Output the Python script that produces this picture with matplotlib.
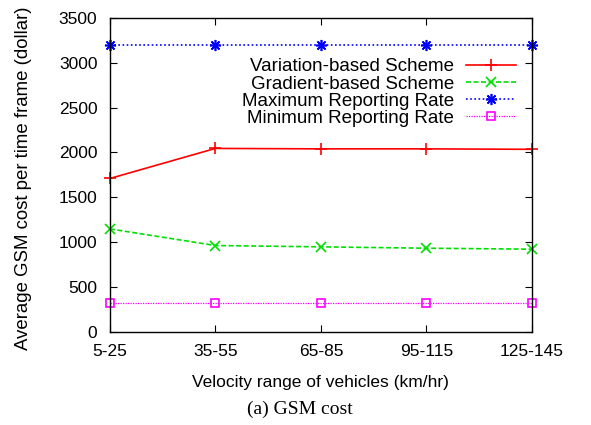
import numpy as np
import matplotlib
matplotlib.use('Agg')
import matplotlib.pyplot as plt

plt.rcParams['font.family'] = ['Liberation Sans', 'DejaVu Sans']

speed_ranges = ['5-25', '35-55', '65-85', '95-115', '125-145']
variation = [1710, 2045, 2040, 2040, 2035]
gradient = [1148, 963, 948, 933, 922]
max_rate = [3200, 3200, 3200, 3200, 3200]
min_rate = [320, 320, 320, 320, 320]

fig = plt.figure(figsize=(5.91, 4.25), dpi=100)
ax = fig.add_axes([0.186, 0.219, 0.714, 0.739])
x = np.arange(len(speed_ranges))

ax.plot(x, variation, color='#ff0000', ls='-', lw=1.2, marker='+', ms=8, mew=1.2,
        label='Variation-based Scheme', clip_on=False)
ax.plot(x, gradient, color='#00e000', ls=(0, (3, 1.5)), lw=1.2, marker='x', ms=7, mew=1.2,
        label='Gradient-based Scheme', clip_on=False)
ax.plot(x, max_rate, color='#0000ff', ls=(0, (1, 1.5)), lw=1.2, marker=(8, 2, 0), ms=8, mew=1.2,
        label='Maximum Reporting Rate', clip_on=False)
ax.plot(x, min_rate, color='#ff00ff', ls=(0, (1, 1)), lw=0.9, marker='s', ms=6, mew=1.2,
        mfc='none', label='Minimum Reporting Rate', clip_on=False)

ax.set_xlim(0, len(speed_ranges) - 1)
ax.set_ylim(0, 3500)
ax.set_xticks(x)
ax.set_xticklabels(speed_ranges)
ax.set_yticks(np.arange(0, 3501, 500))
ax.tick_params(direction='in', top=True, right=True, labelsize=12.5, length=5)
ax.tick_params(axis='x', pad=9)
ax.tick_params(axis='y', pad=9)
for s in ax.spines.values():
    s.set_linewidth(1.0)

ax.set_xlabel('Velocity range of vehicles (km/hr)', fontsize=12.5, labelpad=11)
ax.set_ylabel('Average GSM cost per time frame (dollar)', fontsize=13.4)
ax.yaxis.set_label_coords(-0.185, 0.49)

ax.legend(loc='upper right', bbox_to_anchor=(0.98, 0.895), frameon=False, fontsize=13.5,
          markerfirst=False, handlelength=2.67, labelspacing=0.0, handletextpad=0.64,
          borderaxespad=0)

fig.text(0.508, 0.036, '(a) GSM cost', family='Liberation Serif', fontsize=14,
         ha='center', va='center')

fig.savefig('out.png', dpi=100)
